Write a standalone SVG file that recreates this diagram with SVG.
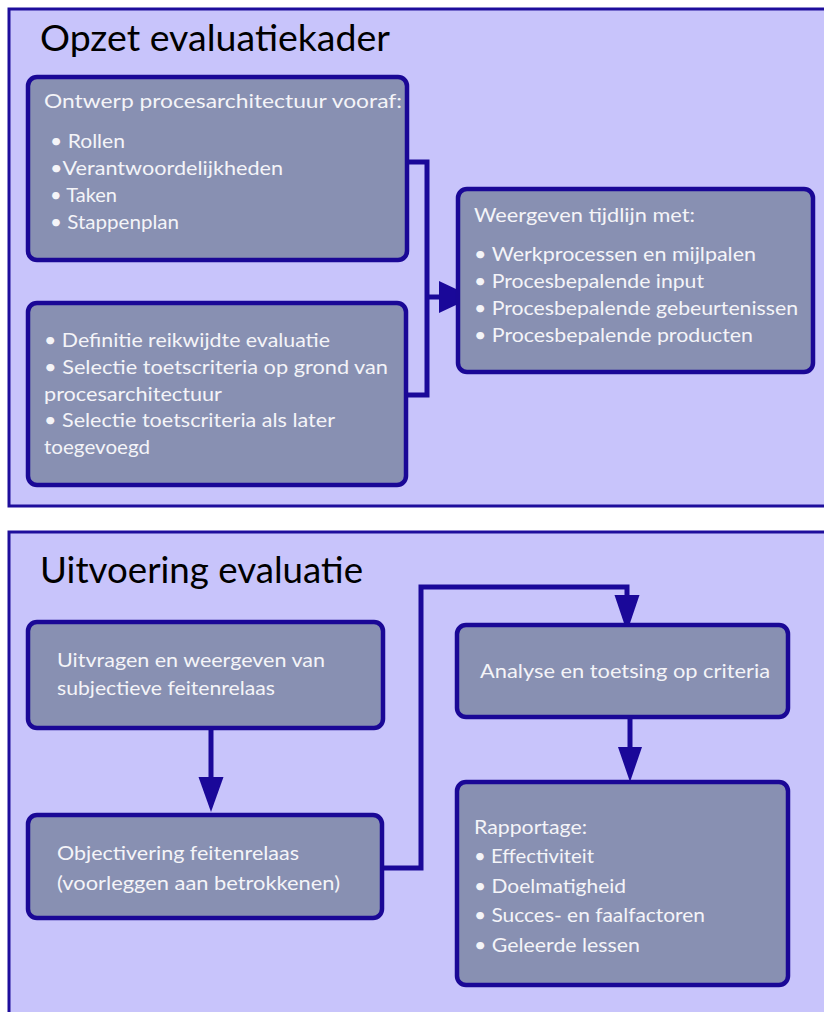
<svg xmlns="http://www.w3.org/2000/svg" width="824" height="1012" viewBox="0 0 824 1012">
<defs>
<style>
.panel{fill:#c8c4fb;stroke:#1e0e9c;stroke-width:3}
.node{fill:#8890b2;stroke:#1a0896;stroke-width:4.5}
.title{font-family:Lato,"Open Sans",sans-serif;font-size:37px;fill:#000}
.t{font-family:Lato,"Open Sans",sans-serif;font-size:20px;fill:#f4f4f8}
.c{fill:none;stroke:#1a0899;stroke-width:5;stroke-linejoin:miter}
.ah{fill:#1a0899}
</style>
</defs>
<rect width="824" height="1012" fill="#ffffff"/>
<g id="panel-opzet">
<rect class="panel" x="9" y="9" width="830" height="497"/>
<text class="title" x="40" y="51" textLength="350" lengthAdjust="spacingAndGlyphs">Opzet evaluatiekader</text>
</g>
<g id="panel-uitvoering">
<rect class="panel" x="9" y="532" width="830" height="500"/>
<text class="title" x="40" y="583" textLength="323" lengthAdjust="spacingAndGlyphs">Uitvoering evaluatie</text>
</g>
<g id="connectors">
<polyline class="c" points="407,162 427,162 427,395 403,395"/>
<line class="c" x1="427" y1="297" x2="442" y2="297"/>
<polygon class="ah" points="439,281 473,297 439,313"/>
<line class="c" x1="211" y1="728" x2="211" y2="780"/>
<polygon class="ah" points="198.5,777 223.5,777 211,812"/>
<polyline class="c" points="382,868 421,868 421,587 627,587 627,598"/>
<polygon class="ah" points="614.5,595 639.5,595 627,632"/>
<line class="c" x1="630" y1="717" x2="630" y2="750"/>
<polygon class="ah" points="618,747 642,747 630,782"/>
</g>
<g id="node-ontwerp">
<rect class="node" x="28" y="77" width="379" height="183" rx="9"/>
<text class="t" x="44" y="108" textLength="358" lengthAdjust="spacingAndGlyphs">Ontwerp procesarchitectuur vooraf:</text>
<text class="t" x="50" y="148" textLength="75" lengthAdjust="spacingAndGlyphs">• Rollen</text>
<text class="t" x="50" y="175" textLength="233" lengthAdjust="spacingAndGlyphs">•Verantwoordelijkheden</text>
<text class="t" x="50" y="202" textLength="67" lengthAdjust="spacingAndGlyphs">• Taken</text>
<text class="t" x="50" y="229" textLength="129" lengthAdjust="spacingAndGlyphs">• Stappenplan</text>
</g>
<g id="node-definitie">
<rect class="node" x="28" y="303" width="378" height="182" rx="9"/>
<text class="t" x="44" y="347" textLength="286" lengthAdjust="spacingAndGlyphs">• Definitie reikwijdte evaluatie</text>
<text class="t" x="44" y="374" textLength="344" lengthAdjust="spacingAndGlyphs">• Selectie toetscriteria op grond van</text>
<text class="t" x="44" y="401" textLength="178" lengthAdjust="spacingAndGlyphs">procesarchitectuur</text>
<text class="t" x="44" y="427" textLength="291" lengthAdjust="spacingAndGlyphs">• Selectie toetscriteria als later</text>
<text class="t" x="44" y="454" textLength="106" lengthAdjust="spacingAndGlyphs">toegevoegd</text>
</g>
<g id="node-weergeven">
<rect class="node" x="458" y="189" width="355" height="183" rx="9"/>
<text class="t" x="474" y="222" textLength="221" lengthAdjust="spacingAndGlyphs">Weergeven tijdlijn met:</text>
<text class="t" x="474" y="261" textLength="282" lengthAdjust="spacingAndGlyphs">• Werkprocessen en mijlpalen</text>
<text class="t" x="474" y="288" textLength="230" lengthAdjust="spacingAndGlyphs">• Procesbepalende input</text>
<text class="t" x="474" y="315" textLength="324" lengthAdjust="spacingAndGlyphs">• Procesbepalende gebeurtenissen</text>
<text class="t" x="474" y="342" textLength="279" lengthAdjust="spacingAndGlyphs">• Procesbepalende producten</text>
</g>
<g id="node-uitvragen">
<rect class="node" x="28" y="622" width="355" height="106" rx="9"/>
<text class="t" x="57" y="667" textLength="268" lengthAdjust="spacingAndGlyphs">Uitvragen en weergeven van</text>
<text class="t" x="57" y="695" textLength="218" lengthAdjust="spacingAndGlyphs">subjectieve feitenrelaas</text>
</g>
<g id="node-objectivering">
<rect class="node" x="28" y="815" width="354" height="103" rx="9"/>
<text class="t" x="57" y="860" textLength="242" lengthAdjust="spacingAndGlyphs">Objectivering feitenrelaas</text>
<text class="t" x="57" y="890" textLength="283" lengthAdjust="spacingAndGlyphs">(voorleggen aan betrokkenen)</text>
</g>
<g id="node-analyse">
<rect class="node" x="457" y="625" width="331" height="92" rx="9"/>
<text class="t" x="480" y="678" textLength="290" lengthAdjust="spacingAndGlyphs">Analyse en toetsing op criteria</text>
</g>
<g id="node-rapportage">
<rect class="node" x="457" y="782" width="331" height="203" rx="9"/>
<text class="t" x="474" y="834" textLength="113" lengthAdjust="spacingAndGlyphs">Rapportage:</text>
<text class="t" x="474" y="863" textLength="120" lengthAdjust="spacingAndGlyphs">• Effectiviteit</text>
<text class="t" x="474" y="893" textLength="152" lengthAdjust="spacingAndGlyphs">• Doelmatigheid</text>
<text class="t" x="474" y="922" textLength="231" lengthAdjust="spacingAndGlyphs">• Succes- en faalfactoren</text>
<text class="t" x="474" y="952" textLength="166" lengthAdjust="spacingAndGlyphs">• Geleerde lessen</text>
</g>
</svg>
